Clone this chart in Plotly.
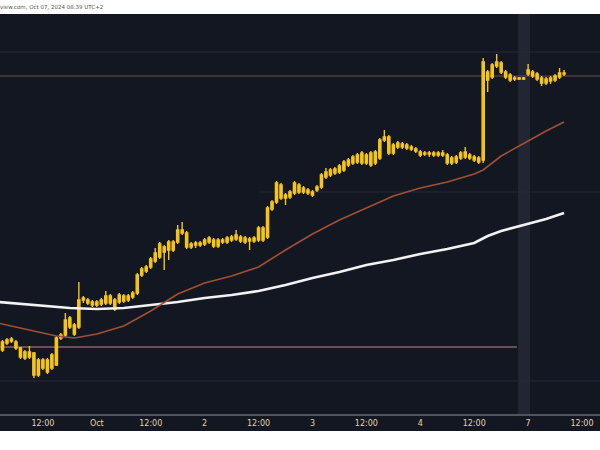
import pandas as pd
import plotly.graph_objects as go

# ---------------- data ----------------
# hourly candles: Mon Sep 30 03:00 -> Fri Oct 4 23:00, then Mon Oct 7 00:00 -> 08:00 (UTC+2)
times = list(pd.date_range("2024-09-30 03:00", "2024-10-04 23:00", freq="h")) + \
        list(pd.date_range("2024-10-07 00:00", "2024-10-07 08:00", freq="h"))

opens = [
    100.50, 100.57, 100.61, 100.58, 100.52, 100.42, 100.48, 100.47, 100.25, 100.40,
    100.28, 100.32, 100.35, 100.62, 100.65, 100.82, 100.75, 100.73, 101.00, 101.00,
    100.98, 100.95, 100.96, 100.97, 101.04, 101.00, 100.98, 101.04, 101.00, 101.03,
    101.07, 101.25, 101.29, 101.33, 101.39, 101.43, 101.53, 101.50, 101.58, 101.58,
    101.70, 101.67, 101.53, 101.55, 101.57, 101.56, 101.58, 101.60, 101.54, 101.60,
    101.58, 101.60, 101.61, 101.63, 101.62, 101.59, 101.59, 101.60, 101.72, 101.63,
    101.91, 101.98, 102.15, 102.02, 102.03, 102.07, 102.15, 102.08, 102.10, 102.08,
    102.10, 102.13, 102.23, 102.25, 102.27, 102.28, 102.30, 102.35, 102.37, 102.38,
    102.47, 102.37, 102.47, 102.37, 102.42, 102.60, 102.63, 102.47, 102.53, 102.56,
    102.55, 102.53, 102.51, 102.48, 102.47, 102.46, 102.47, 102.45, 102.47, 102.45,
    102.37, 102.38, 102.42, 102.43, 102.45, 102.43, 102.42, 102.40, 103.28, 103.23,
    103.34, 103.37, 103.28, 103.25, 103.22, 103.21, 103.22,
    103.26, 103.28, 103.26, 103.22, 103.17, 103.19, 103.20, 103.23, 103.27]

highs = [
    100.60, 100.62, 100.63, 100.60, 100.53, 100.50, 100.54, 100.48, 100.42, 100.42,
    100.42, 100.47, 100.64, 100.67, 100.87, 100.84, 100.77, 101.18, 101.04, 101.02,
    101.00, 101.00, 101.02, 101.09, 101.06, 101.02, 101.07, 101.06, 101.06, 101.09,
    101.27, 101.33, 101.35, 101.43, 101.52, 101.58, 101.55, 101.60, 101.60, 101.75,
    101.78, 101.69, 101.58, 101.59, 101.59, 101.62, 101.64, 101.62, 101.62, 101.62,
    101.64, 101.65, 101.70, 101.65, 101.64, 101.63, 101.64, 101.74, 101.74, 101.94,
    102.00, 102.19, 102.17, 102.07, 102.10, 102.19, 102.17, 102.14, 102.12, 102.10,
    102.15, 102.27, 102.32, 102.32, 102.33, 102.36, 102.40, 102.42, 102.45, 102.47,
    102.49, 102.47, 102.49, 102.50, 102.62, 102.70, 102.65, 102.57, 102.59, 102.58,
    102.57, 102.55, 102.53, 102.50, 102.49, 102.49, 102.49, 102.49, 102.50, 102.47,
    102.44, 102.45, 102.49, 102.53, 102.47, 102.45, 102.44, 103.42, 103.30, 103.37,
    103.46, 103.39, 103.30, 103.27, 103.24, 103.23, 103.23,
    103.36, 103.30, 103.28, 103.24, 103.23, 103.24, 103.26, 103.32, 103.30]

lows = [
    100.48, 100.55, 100.57, 100.50, 100.41, 100.40, 100.41, 100.22, 100.23, 100.30,
    100.26, 100.30, 100.34, 100.60, 100.63, 100.71, 100.64, 100.71, 100.97, 100.95,
    100.93, 100.93, 100.94, 100.95, 100.95, 100.89, 100.96, 100.97, 100.98, 101.01,
    101.05, 101.23, 101.27, 101.31, 101.37, 101.41, 101.30, 101.40, 101.48, 101.56,
    101.65, 101.51, 101.51, 101.52, 101.53, 101.54, 101.56, 101.52, 101.52, 101.56,
    101.56, 101.58, 101.59, 101.57, 101.56, 101.50, 101.57, 101.58, 101.58, 101.61,
    101.89, 101.96, 102.00, 101.95, 102.01, 102.05, 102.06, 102.06, 102.05, 102.03,
    102.08, 102.11, 102.21, 102.23, 102.25, 102.26, 102.28, 102.33, 102.35, 102.36,
    102.35, 102.35, 102.33, 102.35, 102.40, 102.58, 102.45, 102.45, 102.51, 102.51,
    102.50, 102.49, 102.47, 102.43, 102.44, 102.43, 102.43, 102.43, 102.43, 102.35,
    102.35, 102.36, 102.40, 102.41, 102.40, 102.38, 102.36, 102.37, 103.08, 103.21,
    103.32, 103.26, 103.21, 103.18, 103.19, 103.20, 103.20,
    103.24, 103.22, 103.19, 103.14, 103.15, 103.16, 103.18, 103.21, 103.24]

closes = [
    100.58, 100.60, 100.59, 100.52, 100.43, 100.48, 100.43, 100.25, 100.40, 100.32,
    100.40, 100.45, 100.62, 100.65, 100.80, 100.73, 100.66, 101.00, 101.02, 100.97,
    100.95, 100.98, 101.00, 101.04, 100.97, 100.91, 101.05, 100.99, 101.04, 101.07,
    101.25, 101.31, 101.33, 101.41, 101.47, 101.56, 101.48, 101.58, 101.50, 101.70,
    101.67, 101.53, 101.56, 101.57, 101.55, 101.60, 101.62, 101.54, 101.60, 101.58,
    101.62, 101.63, 101.65, 101.59, 101.58, 101.61, 101.62, 101.72, 101.60, 101.92,
    101.98, 102.17, 102.02, 102.05, 102.08, 102.17, 102.08, 102.12, 102.07, 102.05,
    102.13, 102.25, 102.28, 102.30, 102.31, 102.34, 102.38, 102.40, 102.43, 102.45,
    102.37, 102.45, 102.35, 102.48, 102.60, 102.63, 102.47, 102.55, 102.57, 102.53,
    102.52, 102.51, 102.49, 102.45, 102.46, 102.47, 102.45, 102.47, 102.45, 102.37,
    102.42, 102.43, 102.47, 102.48, 102.42, 102.40, 102.38, 103.38, 103.20, 103.35,
    103.38, 103.28, 103.23, 103.20, 103.21, 103.22, 103.21,
    103.30, 103.24, 103.21, 103.17, 103.21, 103.22, 103.24, 103.27, 103.26]

# slow moving average (white) and fast moving average (brown), read at sample times
ma_slow_times = ["2024-09-30 02:00", "2024-09-30 12:00", "2024-09-30 18:00", "2024-10-01 00:00",
                 "2024-10-01 06:00", "2024-10-01 12:00", "2024-10-01 18:00", "2024-10-02 00:00",
                 "2024-10-02 06:00", "2024-10-02 12:00", "2024-10-02 18:00", "2024-10-03 00:00",
                 "2024-10-03 06:00", "2024-10-03 12:00", "2024-10-03 18:00", "2024-10-04 00:00",
                 "2024-10-04 06:00", "2024-10-04 12:00", "2024-10-04 15:00", "2024-10-04 18:00",
                 "2024-10-04 23:00", "2024-10-07 00:00", "2024-10-07 04:00", "2024-10-07 08:00"]
ma_slow = [100.98, 100.94, 100.92, 100.91, 100.92, 100.95, 100.98, 101.02,
           101.05, 101.09, 101.15, 101.22, 101.28, 101.35, 101.40, 101.46,
           101.51, 101.57, 101.64, 101.69, 101.75, 101.76, 101.81, 101.87]

ma_fast_times = ["2024-09-30 02:00", "2024-09-30 09:00", "2024-09-30 15:00", "2024-09-30 19:00",
                 "2024-10-01 00:00", "2024-10-01 06:00", "2024-10-01 12:00", "2024-10-01 18:00",
                 "2024-10-02 00:00", "2024-10-02 06:00", "2024-10-02 12:00", "2024-10-02 18:00",
                 "2024-10-03 00:00", "2024-10-03 06:00", "2024-10-03 12:00", "2024-10-03 18:00",
                 "2024-10-04 00:00", "2024-10-04 06:00", "2024-10-04 12:00", "2024-10-04 14:00",
                 "2024-10-04 18:00", "2024-10-04 23:00", "2024-10-07 00:00", "2024-10-07 04:00",
                 "2024-10-07 08:00"]
ma_fast = [100.77, 100.70, 100.64, 100.62, 100.66, 100.74, 100.89, 101.06,
           101.17, 101.24, 101.33, 101.50, 101.66, 101.80, 101.92, 102.04,
           102.12, 102.18, 102.26, 102.30, 102.44, 102.57, 102.59, 102.69,
           102.78]

# horizontal levels
last_price_level = 103.24
support_level = 100.53
faint_levels = [103.48, 100.19]
mid_level = 102.08

tick_vals = ["2024-09-30 12:00", "2024-10-01 00:00", "2024-10-01 12:00", "2024-10-02 00:00",
             "2024-10-02 12:00", "2024-10-03 00:00", "2024-10-03 12:00", "2024-10-04 00:00",
             "2024-10-04 12:00", "2024-10-07 00:00", "2024-10-07 12:00"]
tick_text = ["12:00", "Oct", "12:00", "2", "12:00", "3", "12:00", "4", "12:00", "7", "12:00"]

x_start, x_end = "2024-09-30 02:27", "2024-10-07 16:00"

# ---------------- styles ----------------
BG = "#131722"
GOLD = "#f5c518"

fig = go.Figure()

fig.add_trace(go.Scatter(x=ma_slow_times, y=ma_slow, mode="lines",
                         line=dict(color="#f2f2f2", width=2.6), hoverinfo="skip"))
fig.add_trace(go.Scatter(x=ma_fast_times, y=ma_fast, mode="lines",
                         line=dict(color="#a34f32", width=1.6), hoverinfo="skip"))

fig.add_trace(go.Candlestick(
    x=times, open=opens, high=highs, low=lows, close=closes,
    increasing=dict(line=dict(color=GOLD, width=1.4), fillcolor=GOLD),
    decreasing=dict(line=dict(color=GOLD, width=1.4), fillcolor=GOLD),
    whiskerwidth=0, hoverinfo="skip"))

shapes = []
# weekend / session band
shapes.append(dict(type="rect", xref="x", yref="paper", x0="2024-10-04 21:47", x1="2024-10-07 00:27",
                   y0=0, y1=1, fillcolor="rgba(130,135,150,0.14)", line=dict(width=0), layer="below"))
for lv in faint_levels:
    shapes.append(dict(type="line", xref="paper", yref="y", x0=0, x1=1, y0=lv, y1=lv,
                       line=dict(color="#252a36", width=1), layer="below"))
shapes.append(dict(type="line", xref="x", yref="y", x0="2024-10-02 12:00", x1=x_end, y0=mid_level, y1=mid_level,
                   line=dict(color="#262b37", width=1), layer="below"))
shapes.append(dict(type="line", xref="paper", yref="y", x0=0, x1=1, y0=last_price_level, y1=last_price_level,
                   line=dict(color="#6e4e3e", width=1), layer="below"))
shapes.append(dict(type="line", xref="x", yref="y", x0=x_start, x1="2024-10-04 21:30",
                   y0=support_level, y1=support_level,
                   line=dict(color="#8d6068", width=1.5), layer="below"))
# dark strip behind the time axis
shapes.append(dict(type="rect", xref="paper", yref="paper", x0=0, x1=1, y0=0, y1=-0.0425,
                   fillcolor=BG, line=dict(width=0), layer="below"))

fig.update_layout(
    width=600, height=450,
    margin=dict(l=0, r=0, t=14, b=36),
    paper_bgcolor="white", plot_bgcolor=BG,
    showlegend=False,
    shapes=shapes,
    xaxis=dict(
        type="date", range=[x_start, x_end],
        rangebreaks=[dict(bounds=["2024-10-04 23:30", "2024-10-06 23:30"])],
        rangeslider=dict(visible=False),
        showgrid=False, zeroline=False,
        showline=True, linecolor="#50545e", linewidth=2,
        tickvals=tick_vals, ticktext=tick_text, ticks="",
        tickfont=dict(family="DejaVu Sans", size=8, color="#e2d3a8"),
        ticklabelstandoff=0,
    ),
    yaxis=dict(range=[99.86, 103.86], visible=False, fixedrange=True),
    annotations=[dict(text="view.com, Oct 07, 2024 08:39 UTC+2", xref="paper", yref="paper",
                      x=-0.004, y=1, yshift=7, xanchor="left", yanchor="middle", showarrow=False,
                      font=dict(family="DejaVu Sans", size=5.5, color="#555555"))],
)

fig.write_html("out.html", config={"displayModeBar": False},
               post_script="document.body.style.margin='0';")
